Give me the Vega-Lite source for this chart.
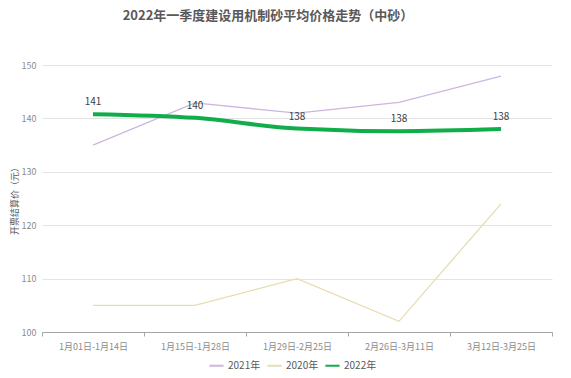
{
  "$schema": "https://vega.github.io/schema/vega-lite/v6.json",
  "autosize": {"type": "none"},
  "width": 510,
  "height": 267,
  "padding": {"left": 42, "top": 65, "right": 19, "bottom": 46},
  "background": "white",
  "config": {
    "font": "Noto Sans CJK SC",
    "view": {"stroke": null}
  },
  "title": {
    "text": "2022年一季度建设用机制砂平均价格走势（中砂）",
    "fontSize": 13,
    "fontWeight": "bold",
    "color": "#595959",
    "anchor": "middle",
    "dx": -29,
    "offset": 38
  },
  "data": {
    "values": [
      {"period": "1月01日-1月14日", "series": "2021年", "value": 135},
      {"period": "1月15日-1月28日", "series": "2021年", "value": 142.9},
      {"period": "1月29日-2月25日", "series": "2021年", "value": 141},
      {"period": "2月26日-3月11日", "series": "2021年", "value": 143},
      {"period": "3月12日-3月25日", "series": "2021年", "value": 147.9},
      {"period": "1月01日-1月14日", "series": "2020年", "value": 105},
      {"period": "1月15日-1月28日", "series": "2020年", "value": 105},
      {"period": "1月29日-2月25日", "series": "2020年", "value": 110},
      {"period": "2月26日-3月11日", "series": "2020年", "value": 102},
      {"period": "3月12日-3月25日", "series": "2020年", "value": 124},
      {"period": "1月01日-1月14日", "series": "2022年", "value": 140.8},
      {"period": "1月15日-1月28日", "series": "2022年", "value": 140.1},
      {"period": "1月29日-2月25日", "series": "2022年", "value": 138.1},
      {"period": "2月26日-3月11日", "series": "2022年", "value": 137.6},
      {"period": "3月12日-3月25日", "series": "2022年", "value": 138.0}
    ]
  },
  "encoding": {
    "x": {
      "field": "period",
      "type": "nominal",
      "sort": null,
      "scale": {"type": "band", "paddingInner": 0, "paddingOuter": 0},
      "axis": {
        "title": null,
        "labelAngle": 0,
        "labelFontSize": 9,
        "labelColor": "#8c8c8c",
        "labelPadding": 6,
        "domainColor": "#a6a6a6",
        "tickColor": "#a6a6a6",
        "tickBand": "extent",
        "tickSize": 4,
        "grid": false
      }
    },
    "y": {
      "field": "value",
      "type": "quantitative",
      "scale": {"domain": [100, 150], "nice": false, "zero": false},
      "axis": {
        "title": "开票结算价（元）",
        "titleFontSize": 9,
        "titleFontWeight": "normal",
        "titleColor": "#595959",
        "titlePadding": 2,
        "values": [100, 110, 120, 130, 140, 150],
        "labelFontSize": 9,
        "labelColor": "#8c8c8c",
        "labelPadding": 6,
        "domain": false,
        "ticks": false,
        "gridColor": "#e3e3e3",
        "gridWidth": 1
      }
    }
  },
  "layer": [
    {
      "transform": [{"filter": "datum.series !== '2022年'"}],
      "mark": {"type": "line", "strokeWidth": 1.3},
      "encoding": {
        "color": {
          "field": "series",
          "type": "nominal",
          "scale": {"domain": ["2021年", "2020年", "2022年"], "range": ["#cdb6df", "#e8dcb2", "#11ad4a"]},
          "legend": {
            "orient": "none",
            "legendX": 166,
            "legendY": 292,
            "direction": "horizontal",
            "title": null,
            "symbolType": "stroke",
            "symbolSize": 200,
            "symbolStrokeWidth": 2,
            "labelFontSize": 10,
            "labelColor": "#595959",
            "labelOffset": 3,
            "columnPadding": 2
          }
        }
      }
    },
    {
      "transform": [{"filter": "datum.series === '2022年'"}],
      "mark": {"type": "line", "interpolate": "monotone", "strokeWidth": 4},
      "encoding": {
        "color": {"field": "series", "type": "nominal"}
      }
    },
    {
      "transform": [{"filter": "datum.series === '2022年'"}],
      "mark": {"type": "text", "dy": -12, "fontSize": 10, "color": "#404040"},
      "encoding": {
        "text": {"field": "value", "type": "quantitative", "format": ".0f"}
      }
    }
  ]
}
